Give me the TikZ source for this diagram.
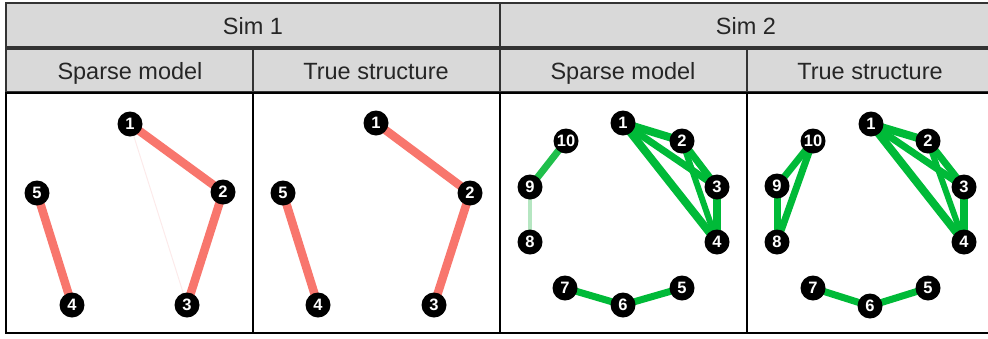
\documentclass[tikz,border=0pt]{standalone}
\usepackage{fontspec}
\setmainfont{Liberation Sans}
\usetikzlibrary{backgrounds}
\definecolor{hdrfill}{HTML}{D9D9D9}
\definecolor{hdrline}{HTML}{333333}
\definecolor{edgered}{HTML}{F8766D}
\definecolor{faintred}{HTML}{FCEAEA}
\definecolor{edgegreen}{HTML}{00BA38}
\definecolor{midgreen}{HTML}{20BF4B}
\definecolor{lightgreen}{HTML}{B5E6C1}
\tikzset{
  hdrcell/.style={draw=hdrline, fill=hdrfill, line width=1.6pt},
  hdrtext/.style={font=\fontsize{23.5}{28}\selectfont, text=black!85, inner sep=0pt, anchor=base},
  panelbox/.style={draw=black, line width=1.8pt},
  gnode/.style={circle, fill=black, minimum size=25pt, inner sep=0pt, text=white, font=\fontsize{16.5}{17}\selectfont\bfseries},
  redge/.style={draw=edgered, line width=8.5pt},
  gedge/.style={draw=edgegreen, line width=#1},
  gedge/.default=7pt
}
\begin{document}
\begin{tikzpicture}[x=1pt, y=-1pt]
\useasboundingbox (0,0) rectangle (988,338);
% headers row 1
\draw[hdrcell] (6,3) rectangle (992,47);
\draw[hdrcell] (6,3) rectangle (500,47);
\node[hdrtext] (sim1) at (253,34.5) {Sim 1};
\node[hdrtext] (sim2) at (746,34.5) {Sim 2};
% headers row 2
\draw[hdrcell] (6,49) rectangle (253,92);
\draw[hdrcell] (253,49) rectangle (500,92);
\draw[hdrcell] (500,49) rectangle (747,92);
\draw[hdrcell] (747,49) rectangle (992,92);
\node[hdrtext] (h1) at (130,79.5) {Sparse model};
\node[hdrtext] (h2) at (376,79.5) {True structure};
\node[hdrtext] (h3) at (623,79.5) {Sparse model};
\node[hdrtext] (h4) at (870,79.5) {True structure};
% panels
\draw[panelbox] (6,93) rectangle (253,333);
\draw[panelbox] (253,93) rectangle (500,333);
\draw[panelbox] (500,93) rectangle (747,333);
\draw[panelbox] (747,93) rectangle (992,333);

% panel 1 nodes
\node[gnode] (a1) at (130,124) {1};
\node[gnode] (a2) at (223,192) {2};
\node[gnode] (a3) at (187,305) {3};
\node[gnode] (a4) at (72,305) {4};
\node[gnode] (a5) at (37,193) {5};
% panel 2 nodes
\node[gnode] (b1) at (376,123) {1};
\node[gnode] (b2) at (470,193) {2};
\node[gnode] (b3) at (434,305) {3};
\node[gnode] (b4) at (318,305) {4};
\node[gnode] (b5) at (283,193) {5};
% panel 3 nodes
\node[gnode] (c1) at (623,123) {1};
\node[gnode] (c2) at (682,141) {2};
\node[gnode] (c3) at (717,187) {3};
\node[gnode] (c4) at (717,242) {4};
\node[gnode] (c5) at (682,288) {5};
\node[gnode] (c6) at (623,305) {6};
\node[gnode] (c7) at (565,288) {7};
\node[gnode] (c8) at (530,242) {8};
\node[gnode] (c9) at (530,187) {9};
\node[gnode] (c10) at (566,141) {10};
% panel 4 nodes
\node[gnode] (d1) at (871,124) {1};
\node[gnode] (d2) at (928,141) {2};
\node[gnode] (d3) at (964,187) {3};
\node[gnode] (d4) at (964,242) {4};
\node[gnode] (d5) at (928,288) {5};
\node[gnode] (d6) at (870,306) {6};
\node[gnode] (d7) at (813,288) {7};
\node[gnode] (d8) at (777,242) {8};
\node[gnode] (d9) at (777,186) {9};
\node[gnode] (d10) at (813,141) {10};

\begin{scope}[on background layer]
  % panel 1 edges
  \draw[draw=faintred, line width=1pt] (a1.center) -- (a3.center);
  \draw[redge] (a1.center) -- (a2.center);
  \draw[redge] (a2.center) -- (a3.center);
  \draw[redge] (a5.center) -- (a4.center);
  % panel 2 edges
  \draw[redge] (b1.center) -- (b2.center);
  \draw[redge] (b2.center) -- (b3.center);
  \draw[redge] (b5.center) -- (b4.center);
  % panel 3 edges
  \draw[gedge=8pt] (c1.center) -- (c2.center);
  \draw[gedge=7pt] (c1.center) -- (c3.center);
  \draw[gedge=8pt] (c1.center) -- (c4.center);
  \draw[gedge=7pt] (c2.center) -- (c3.center);
  \draw[gedge=6pt] (c2.center) -- (c4.center);
  \draw[gedge=8pt] (c3.center) -- (c4.center);
  \draw[draw=midgreen, line width=7pt] (c9.center) -- (c10.center);
  \draw[draw=lightgreen, line width=4.5pt] (c8.center) -- (c9.center);
  \draw[gedge=7pt] (c7.center) -- (c6.center);
  \draw[gedge=7pt] (c6.center) -- (c5.center);
  % panel 4 edges
  \draw[gedge=8pt] (d1.center) -- (d2.center);
  \draw[gedge=7pt] (d1.center) -- (d3.center);
  \draw[gedge=8pt] (d1.center) -- (d4.center);
  \draw[gedge=7pt] (d2.center) -- (d3.center);
  \draw[gedge=6pt] (d2.center) -- (d4.center);
  \draw[gedge=8pt] (d3.center) -- (d4.center);
  \draw[gedge=7pt] (d8.center) -- (d9.center);
  \draw[gedge=7pt] (d9.center) -- (d10.center);
  \draw[gedge=7pt] (d8.center) -- (d10.center);
  \draw[gedge=7pt] (d7.center) -- (d6.center);
  \draw[gedge=7pt] (d6.center) -- (d5.center);
\end{scope}
\end{tikzpicture}
\end{document}
